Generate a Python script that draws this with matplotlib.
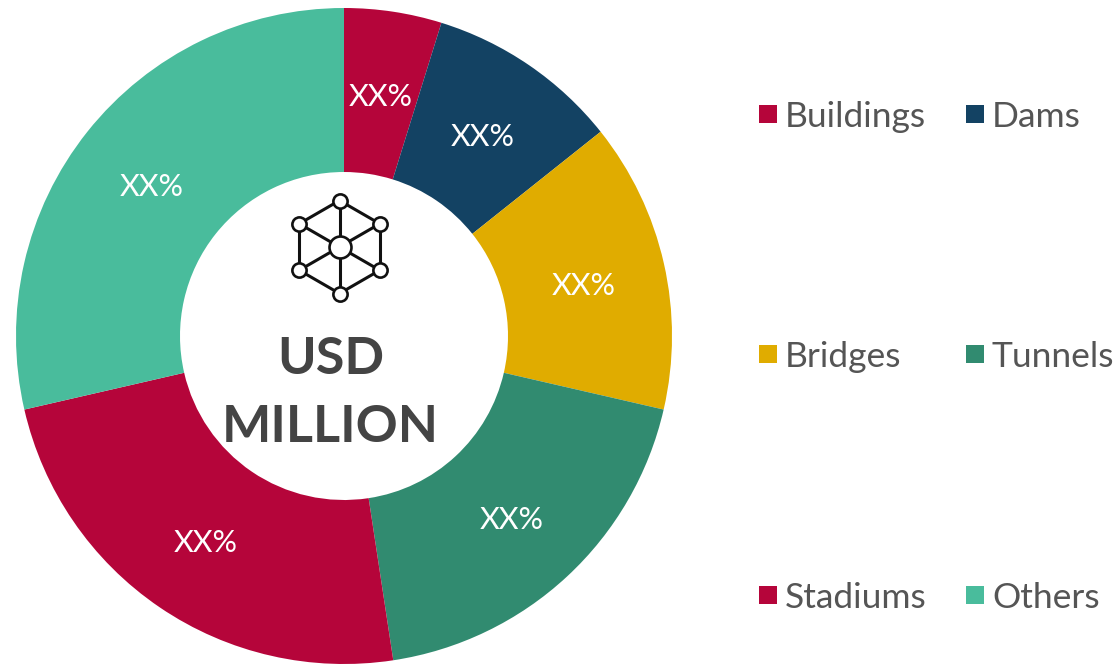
import numpy as np
import matplotlib
matplotlib.use("Agg")
import matplotlib.pyplot as plt

categories = ["Buildings", "Dams", "Bridges", "Tunnels", "Stadiums", "Others"]
shares = [4.8, 9.5, 14.3, 19.0, 23.8, 28.6]
value_labels = ["XX%", "XX%", "XX%", "XX%", "XX%", "XX%"]
colors = ["#B5053A", "#134263", "#E0AC00", "#318B70", "#B5053A", "#49BC9C"]

plt.rcParams["font.family"] = ["Lato", "DejaVu Sans"]

W, H = 1120, 668
fig = plt.figure(figsize=(W / 100, H / 100), dpi=100)
ax = fig.add_axes([0, 0, 1, 1])

cx, cy, r = 344, H - 336, 328
hole = 164
wedges, _ = ax.pie(shares, colors=colors, startangle=90, counterclock=False,
                   radius=r, center=(cx, cy), frame=False,
                   wedgeprops=dict(width=r - hole))
ax.set_xlim(0, W)
ax.set_ylim(0, H)
ax.set_aspect("equal")
ax.axis("off")

# value labels sit mid-ring on each wedge
for w, lab in zip(wedges, value_labels):
    mid = np.deg2rad((w.theta1 + w.theta2) / 2)
    rr = (r + hole) / 2
    ax.text(cx + rr * np.cos(mid), cy + rr * np.sin(mid) - 4, lab, color="white",
            fontsize=22, ha="center", va="center")

# centre text
ax.text(331, H - 360, "USD", color="#444444", fontsize=37.5, fontweight="bold",
        ha="center", va="center")
ax.text(330, H - 427, "MILLION", color="#444444", fontsize=37.5, fontweight="bold",
        ha="center", va="center")

# hexagon icon
ix, iy = 339.5, H - 247
ang = np.deg2rad(np.arange(90, 450, 60))
nx = ix + 46.5 * np.cos(ang)
ny = iy + 46.5 * np.sin(ang)
for i in range(6):
    ax.plot([nx[i], nx[(i + 1) % 6]], [ny[i], ny[(i + 1) % 6]], color="#111111", lw=2.2, zorder=3)
    ax.plot([ix, nx[i]], [iy, ny[i]], color="#111111", lw=2.2, zorder=3)
ax.scatter(nx, ny, s=105, facecolor="white", edgecolor="#111111", linewidth=1.9, zorder=4)
ax.scatter([ix], [iy], s=250, facecolor="white", edgecolor="#111111", linewidth=1.9, zorder=4)

# legend, two columns three rows
col_x = [759, 966]
row_y = [114, 354, 595]
for i, (name, c) in enumerate(zip(categories, colors)):
    x = col_x[i % 2]
    y = H - row_y[i // 2]
    ax.scatter([x + 9], [y], marker="s", s=165, color=c, linewidth=0)
    ax.text(x + 26, y - 3, name, color="#555555", fontsize=25.5, ha="left", va="center")

fig.savefig("out.png", dpi=100)
